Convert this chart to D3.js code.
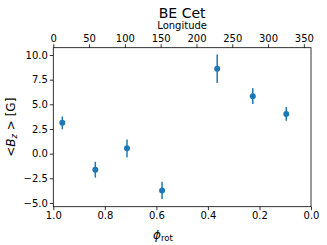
<!DOCTYPE html>
<html>
<head>
<meta charset="utf-8">
<script src="https://cdn.jsdelivr.net/npm/d3@7"></script>
<style>
  body { margin: 0; background: #fff; }
  svg { font-family: "DejaVu Sans", sans-serif; }
</style>
</head>
<body>
<svg width="327" height="245"></svg>
<script>
// rotational phase, mean longitudinal field and its error
const phase = [0.965, 0.837, 0.714, 0.578, 0.364, 0.226, 0.096];
const bz    = [3.12, -1.63, 0.54, -3.73, 8.6, 5.82, 4.03];
const bzErr = [0.65, 0.8, 0.9, 0.88, 1.45, 0.8, 0.7];
const phaseTicks = [1.0, 0.8, 0.6, 0.4, 0.2, 0.0];
const lonTicks = [0, 50, 100, 150, 200, 250, 300, 350];
const bzTicks = [-5, -2.5, 0, 2.5, 5, 7.5, 10];

const svg = d3.select('svg');
const mLeft = 53.3, mRight = 311, mTop = 47.7, mBottom = 206.7;

const x = d3.scaleLinear().domain([1, 0]).range([mLeft, mRight]);
const xLon = d3.scaleLinear().domain([0, 360]).range([mLeft, mRight]);
const y = d3.scaleLinear().domain([-5.38, 10.74]).range([mBottom, mTop]);

const pts = phase.map((p, i) => ({ p: p, b: bz[i], e: bzErr[i] }));

function styleAxis(g) {
  g.selectAll('.domain').remove();
  g.selectAll('.tick line').attr('stroke', '#000').attr('stroke-width', 0.8);
  g.selectAll('.tick text').attr('font-size', '10px').attr('fill', '#000')
    .attr('font-family', '"DejaVu Sans", sans-serif');
}

svg.append('g')
  .attr('transform', `translate(0,${mBottom})`)
  .call(d3.axisBottom(x).tickValues(phaseTicks).tickFormat(d3.format('.1f')).tickSize(3.5).tickPadding(2))
  .call(styleAxis);

svg.append('g')
  .attr('transform', `translate(0,${mTop})`)
  .call(d3.axisTop(xLon).tickValues(lonTicks).tickFormat(d3.format('d')).tickSize(3.5).tickPadding(2))
  .call(styleAxis);

svg.append('g')
  .attr('transform', `translate(${mLeft},0)`)
  .call(d3.axisLeft(y).tickValues(bzTicks).tickFormat(d3.format('.1f')).tickSize(3.5).tickPadding(2))
  .call(styleAxis);

// frame
svg.append('rect')
  .attr('x', mLeft).attr('y', mTop)
  .attr('width', mRight - mLeft).attr('height', mBottom - mTop)
  .attr('fill', 'none').attr('stroke', '#000').attr('stroke-width', 0.8);

// error bars
svg.append('g').selectAll('line')
  .data(pts).enter().append('line')
  .attr('x1', d => x(d.p)).attr('x2', d => x(d.p))
  .attr('y1', d => y(d.b - d.e)).attr('y2', d => y(d.b + d.e))
  .attr('stroke', '#1f77b4').attr('stroke-width', 1.5);

svg.append('g').selectAll('circle')
  .data(pts).enter().append('circle')
  .attr('cx', d => x(d.p)).attr('cy', d => y(d.b))
  .attr('r', 3).attr('fill', '#1f77b4');

// labels
svg.append('text')
  .attr('x', (mLeft + mRight) / 2).attr('y', 18)
  .attr('text-anchor', 'middle').attr('font-size', '14px')
  .text('BE Cet');

svg.append('text')
  .attr('x', (mLeft + mRight) / 2).attr('y', 29)
  .attr('text-anchor', 'middle').attr('font-size', '10px')
  .text('Longitude');

const xl = svg.append('text')
  .attr('x', 163).attr('y', 239)
  .attr('text-anchor', 'middle').attr('font-size', '12px');
xl.append('tspan').attr('font-style', 'italic').text('ϕ');
xl.append('tspan').attr('font-size', '8.5px').attr('dy', 2).text('rot');

const yl = svg.append('text')
  .attr('transform', `translate(15,${(mTop + mBottom) / 2}) rotate(-90)`)
  .attr('text-anchor', 'middle').attr('font-size', '12px');
yl.append('tspan').text('<');
yl.append('tspan').attr('font-style', 'italic').text('B');
yl.append('tspan').attr('font-size', '8.5px').attr('font-style', 'italic').attr('dy', 2).text('z');
yl.append('tspan').attr('dy', -2).text(' > [G]');
</script>
</body>
</html>
